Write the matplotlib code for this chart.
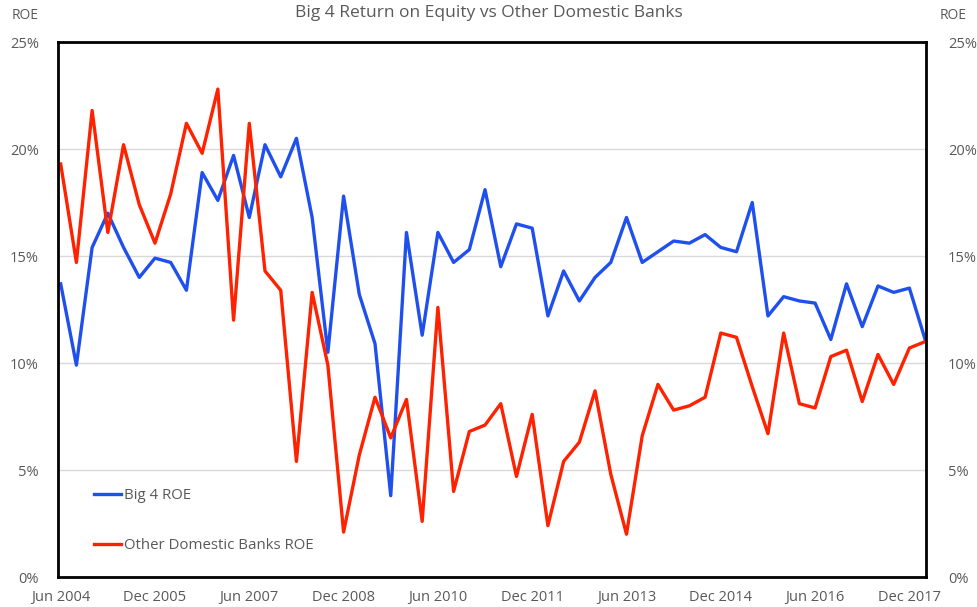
import matplotlib
matplotlib.use('Agg')
import matplotlib.pyplot as plt
from matplotlib.ticker import FuncFormatter

plt.rcParams['font.family'] = ['Open Sans', 'DejaVu Sans']

# quarterly data, Jun 2004 .. Mar 2018 (ROE, %)
quarters = ['Jun 2004', 'Sep 2004', 'Dec 2004']
for yr in range(2005, 2018):
    quarters += ['Mar %d' % yr, 'Jun %d' % yr, 'Sep %d' % yr, 'Dec %d' % yr]
quarters += ['Mar 2018']

big4 = [13.7, 9.9, 15.4, 17.0, 15.4, 14.0, 14.9, 14.7, 13.4, 18.9,
        17.6, 19.7, 16.8, 20.2, 18.7, 20.5, 16.8, 10.5, 17.8, 13.2,
        10.9, 3.8, 16.1, 11.3, 16.1, 14.7, 15.3, 18.1, 14.5, 16.5,
        16.3, 12.2, 14.3, 12.9, 14.0, 14.7, 16.8, 14.7, 15.2, 15.7,
        15.6, 16.0, 15.4, 15.2, 17.5, 12.2, 13.1, 12.9, 12.8, 11.1,
        13.7, 11.7, 13.6, 13.3, 13.5, 11.1]
other = [19.3, 14.7, 21.8, 16.1, 20.2, 17.4, 15.6, 17.9, 21.2, 19.8,
         22.8, 12.0, 21.2, 14.3, 13.4, 5.4, 13.3, 9.9, 2.1, 5.7,
         8.4, 6.5, 8.3, 2.6, 12.6, 4.0, 6.8, 7.1, 8.1, 4.7,
         7.6, 2.4, 5.4, 6.3, 8.7, 4.8, 2.0, 6.6, 9.0, 7.8,
         8.0, 8.4, 11.4, 11.2, 8.9, 6.7, 11.4, 8.1, 7.9, 10.3,
         10.6, 8.2, 10.4, 9.0, 10.7, 11.0]

sTitle = 'Big 4 Return on Equity vs Other Domestic Banks'
cBlue = '#1F50EE'
cRed = '#FF2200'
cText = '#595959'

fig = plt.figure(figsize=(9.77, 6.07), dpi=100)
ax = fig.add_axes([0.0597, 0.0494, 0.888, 0.8814])
x = list(range(len(quarters)))
ax.plot(x, big4, color=cBlue, lw=2.4, label='Big 4 ROE')
ax.plot(x, other, color=cRed, lw=2.4, label='Other Domestic Banks ROE')

ax.set_xlim(-0.15, len(quarters) - 0.95)
ax.set_ylim(0, 25)
ax.set_yticks(range(0, 26, 5))
pct = FuncFormatter(lambda v, p: '%d%%' % v)
ax.yaxis.set_major_formatter(pct)
ax.set_xticks(x[::6])
ax.set_xticklabels(quarters[::6])
ax.grid(axis='y', color='#D9D9D9', lw=1)
ax.set_axisbelow(True)
for s in ax.spines.values():
    s.set_linewidth(2)
    s.set_color('black')
ax.tick_params(length=0, colors=cText, labelsize=10.5)
ax.tick_params(axis='x', pad=9)
ax.tick_params(axis='y', pad=14)

ax2 = ax.twinx()
ax2.set_ylim(0, 25)
ax2.set_yticks(range(0, 26, 5))
ax2.yaxis.set_major_formatter(pct)
ax2.tick_params(length=0, colors=cText, labelsize=10.5, pad=16)
for s in ax2.spines.values():
    s.set_visible(False)

fig.text(0.5, 0.978, sTitle, ha='center', va='center', color=cText, fontsize=12.5)
fig.text(0.012, 0.975, 'ROE', ha='left', va='center', color=cText, fontsize=10)
fig.text(0.962, 0.975, 'ROE', ha='left', va='center', color=cText, fontsize=10)

leg = ax.legend(loc='lower left', bbox_to_anchor=(0.026, 0.02), frameon=False,
                labelspacing=2.3, handlelength=1.8, handletextpad=0.2,
                fontsize=10.8)
for t in leg.get_texts():
    t.set_color(cText)

plt.savefig('out.png', dpi=100)
